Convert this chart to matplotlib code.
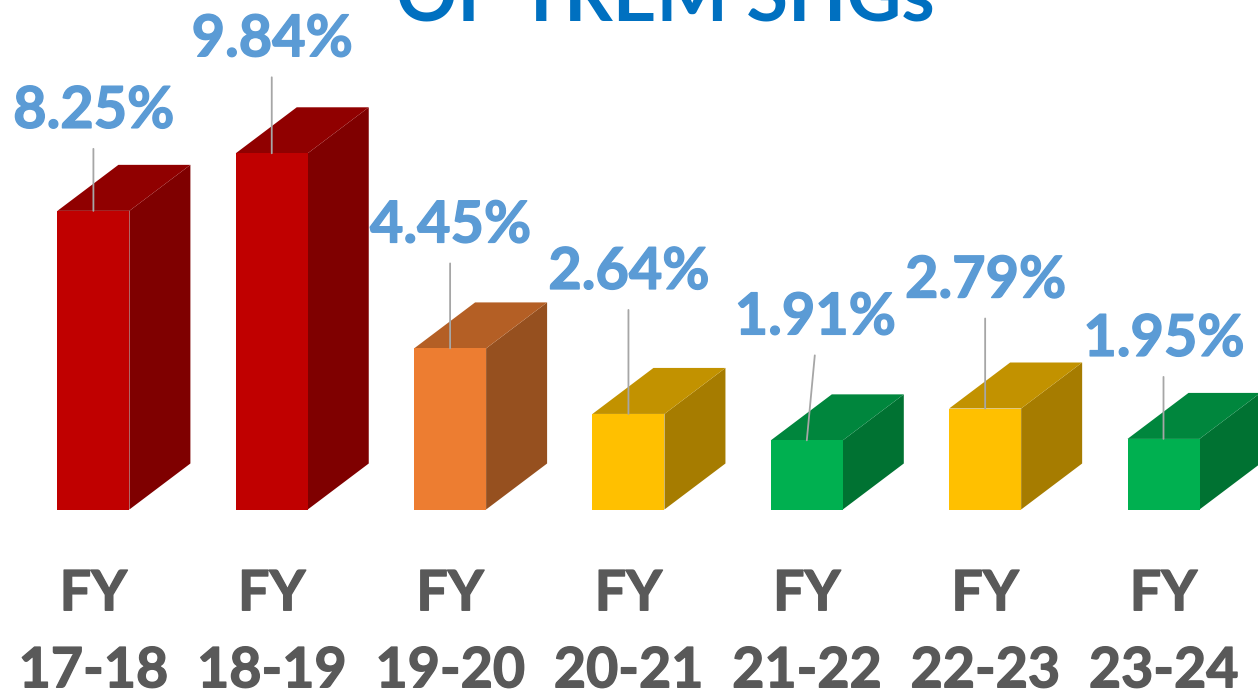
import matplotlib
matplotlib.use("Agg")
import matplotlib.pyplot as plt
from matplotlib.patches import Polygon
import matplotlib.patheffects as pe

# --- data ---
categories = ["FY\n17-18", "FY\n18-19", "FY\n19-20", "FY\n20-21", "FY\n21-22", "FY\n22-23", "FY\n23-24"]
values = [8.25, 9.84, 4.45, 2.64, 1.91, 2.79, 1.95]
title = "OF TREM SHGs"

# --- styles ---
front = ["#C00000", "#C00000", "#ED7D31", "#FFC000", "#00B050", "#FFC000", "#00B050"]
side = ["#7F0000", "#7F0000", "#96501F", "#A67C00", "#007232", "#A67C00", "#007232"]
top = ["#900000", "#900000", "#B45F25", "#C29200", "#00863D", "#C29200", "#00863D"]
leader_rise = [62, 76, 85, 104, 85, 90, 62]   # px, bar top to leader end
leader_dx = [0, 0, 0, 0, 8, 0, 0]             # px, leader end horizontal shift

W, H = 1258, 693
BASE_PX, X0, STEP, YSCALE = 509.5, 93.4, 178.35, 36.2
BAR_PX, DX_PX, DY_PX = 72, 61, 46

plt.rcParams["font.family"] = ["Lato", "DejaVu Sans"]
fig = plt.figure(figsize=(W / 100, H / 100), dpi=100, facecolor="white")
ax = fig.add_axes([0, (H - BASE_PX) / H, 1, BASE_PX / H])
ax.set_xlim(-X0 / STEP, (W - X0) / STEP)
ax.set_ylim(0, BASE_PX / YSCALE)
for s in ax.spines.values():
    s.set_visible(False)
ax.set_yticks([])

hw = BAR_PX / 2 / STEP
dx = DX_PX / STEP
dy = DY_PX / YSCALE
xs = list(range(len(values)))

ax.bar(xs, values, width=2 * hw, color=front, linewidth=0, zorder=3, clip_on=False)
for i, v in zip(xs, values):
    ax.add_patch(Polygon([(i + hw, 0), (i + hw + dx, dy), (i + hw + dx, v + dy), (i + hw, v)],
                         closed=True, fc=side[i], ec="none", zorder=2))
    ax.add_patch(Polygon([(i - hw, v), (i + hw, v), (i + hw + dx, v + dy), (i - hw + dx, v + dy)],
                         closed=True, fc=top[i], ec="none", zorder=2))
    ax.annotate("", xy=(i, v), xytext=(leader_dx[i], leader_rise[i]),
                xycoords="data", textcoords="offset pixels",
                arrowprops=dict(arrowstyle="-", color="#A6A6A6", lw=1.3, shrinkA=0, shrinkB=0),
                zorder=4)
    t = ax.annotate(f"{v:.2f}%", xy=(i, v), xytext=(leader_dx[i] + 0.5, leader_rise[i] + 21),
                    textcoords="offset pixels", ha="center", va="baseline",
                    fontsize=41.5, fontweight="bold", color="#5B9BD5", zorder=5)
    t.set_path_effects([pe.withStroke(linewidth=1.0, foreground="#5B9BD5")])

ax.set_xticks(xs)
labels = ax.set_xticklabels(categories, fontsize=40, fontweight="bold", color="#595959",
                            linespacing=1.66)
for lab in labels:
    lab.set_path_effects([pe.withStroke(linewidth=1.0, foreground="#595959")])
ax.tick_params(axis="x", length=0, pad=43)

fig.text(665 / W, (H - 21) / H, title, ha="center", va="baseline",
         fontsize=54.5, fontweight="bold", color="#0070C0")

fig.savefig("out.png", dpi=100, facecolor="white")
